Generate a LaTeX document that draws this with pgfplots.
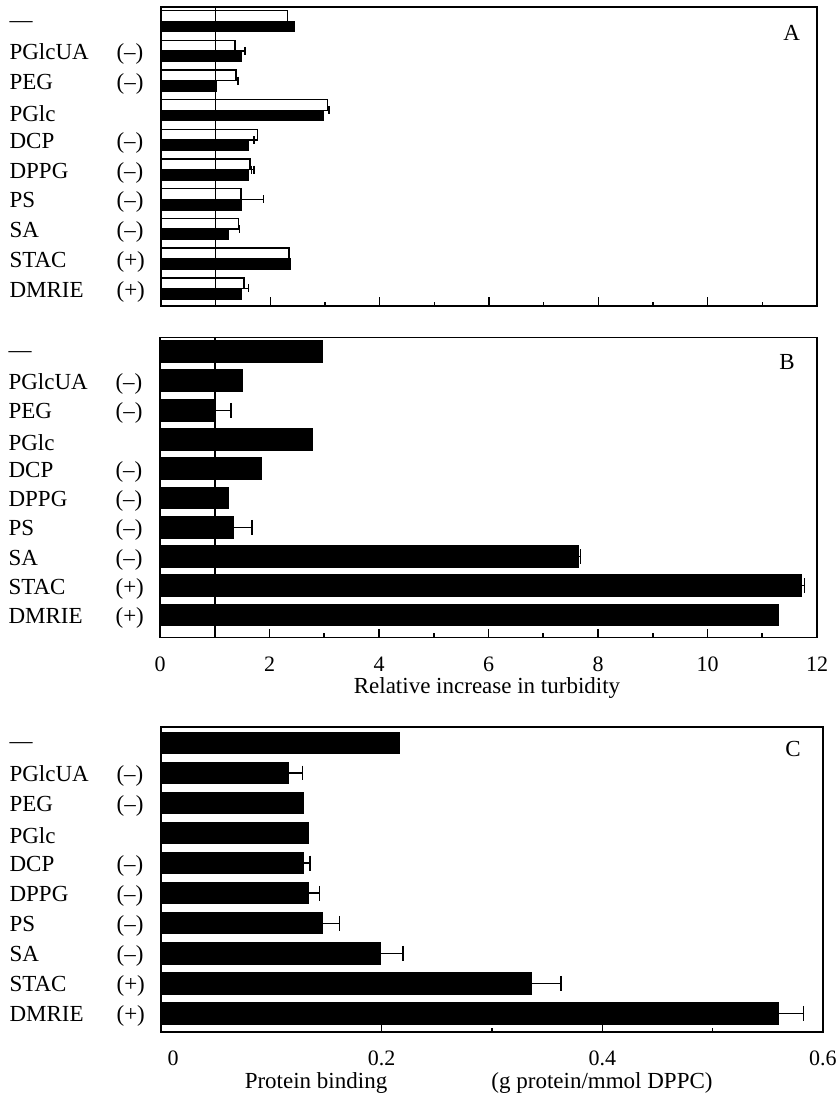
\documentclass[border=0pt]{standalone}
\usepackage{fontspec}
\setmainfont{Liberation Serif}
\usepackage{pgfplots}
\usepackage{pgfplotstable}
\pgfplotsset{compat=1.18}

\pgfplotstableread{
i w we b be
0 2.31 0.00 2.45 0.00
1 1.355 0.01 1.48 0.06
2 1.37 0.04 1.02 0.00
3 3.05 0.02 2.97 0.00
4 1.76 0.00 1.60 0.10
5 1.63 0.07 1.60 0.05
6 1.46 0.41 1.48 0.39
7 1.415 0.02 1.23 0.00
8 2.34 0.01 2.37 0.00
9 1.52 0.00 1.48 0.12
}\dataA

\pgfplotstableread{
i v e
0 2.96 0.00
1 1.51 0.00
2 0.99 0.31
3 2.79 0.00
4 1.85 0.00
5 1.26 0.00
6 1.34 0.34
7 7.64 0.04
8 11.72 0.05
9 11.30 0.00
}\dataB

\pgfplotstableread{
i v e
0 0.216 0.000
1 0.116 0.0125
2 0.129 0.000
3 0.1335 0.000
4 0.129 0.006
5 0.1335 0.010
6 0.146 0.016
7 0.1985 0.021
8 0.336 0.0266
9 0.5597 0.0227
}\dataC

\newcommand{\cat}[2]{\makebox[75.5bp][l]{\makebox[53.5bp][l]{#1}#2}}

\pgfplotsset{
  panel/.style={
    scale only axis, anchor=north west,
    xmin=0, y dir=reverse, ytick={0,...,9},
    yticklabels={\cat{—}{}, \cat{PGlcUA}{(–)}, \cat{PEG}{(–)}, \cat{PGlc}{},
      \cat{DCP}{(–)}, \cat{DPPG}{(–)}, \cat{PS}{(–)}, \cat{SA}{(–)},
      \cat{STAC}{(+)}, \cat{DMRIE}{(+)}},
    yticklabel style={anchor=east, inner sep=0pt, yshift=-1.5bp,
      font=\fontsize{11.5bp}{13bp}\selectfont},
    ytick style={draw=none},
    xtick pos=bottom, tick align=inside,
    major tick length=4.5bp, minor tick length=2.2bp,
    axis line style={line width=0.9bp},
    every tick/.style={black, line width=0.8bp},
    xticklabel style={yshift=-5.5bp, font=\fontsize{11bp}{12bp}\selectfont},
    /pgf/number format/assume math mode=true,
    axis on top,
  },
  turb/.style={
    xmax=12, xtick={0,2,...,12}, minor xtick={1,3,...,11},
    extra x ticks={1}, extra x tick labels={},
    extra x tick style={grid=major, major grid style={black, line width=0.8bp},
      major tick length=0pt},
  },
  ebar/.style={
    draw=none, fill=none, forget plot,
    error bars/.cd, x dir=plus, x explicit, error mark=|,
    error bar style={black, line width=0.7bp},
    error mark options={black, line width=0.7bp, mark size=#1},
  },
}

\begin{document}
\fontsize{11.5bp}{13bp}\selectfont
\begin{tikzpicture}
\useasboundingbox (0,0) rectangle (418bp,-549.5bp);

% Panel A
\begin{axis}[panel, turb, at={(80.5bp,-3.5bp)}, width=328bp, height=149.5bp,
  ymin=-0.48, ymax=9.59, xticklabels={}]
\addplot[xbar, bar width=0.357, bar shift=-0.18, fill=white, draw=black, line width=0.7bp]
  table[x=w, y=i] {\dataA};
\addplot[xbar, bar width=0.357, bar shift=0.18, fill=black, draw=black, line width=0.5bp]
  table[x=b, y=i] {\dataA};
\addplot[xbar, bar width=0.357, bar shift=-0.18,
  restrict expr to domain={\thisrow{we}}{0.001:100}, ebar=2bp] table[x=w, y=i, x error=we] {\dataA};
\addplot[xbar, bar width=0.357, bar shift=0.18,
  restrict expr to domain={\thisrow{be}}{0.001:100}, ebar=2bp] table[x=b, y=i, x error=be] {\dataA};
\end{axis}

% Panel B
\begin{axis}[panel, turb, at={(80bp,-168.75bp)}, width=328.5bp, height=150bp,
  ymin=-0.485, ymax=9.77]
\addplot[xbar, bar width=0.75, bar shift=0, fill=black, draw=black, line width=0.5bp]
  table[x=v, y=i] {\dataB};
\addplot[xbar, bar width=0.75, bar shift=0,
  restrict expr to domain={\thisrow{e}}{0.001:100}, ebar=3.7bp] table[x=v, y=i, x error=e] {\dataB};
\end{axis}

% Panel C
\begin{axis}[panel, at={(80.5bp,-363.5bp)}, width=331bp, height=152.5bp,
  ymin=-0.53, ymax=9.62, xmax=0.6, xtick={0,0.2,0.4,0.6},
  xticklabels={\hspace*{12bp}0, 0.2, 0.4, 0.6}, minor xtick={0.3,0.5}]
\addplot[xbar, bar width=0.715, bar shift=0, fill=black, draw=black, line width=0.5bp]
  table[x=v, y=i] {\dataC};
\addplot[xbar, bar width=0.715, bar shift=0,
  restrict expr to domain={\thisrow{e}}{0.001:100}, ebar=3.7bp] table[x=v, y=i, x error=e] {\dataC};
\end{axis}

\node at (395.8bp,-16.5bp) {A};
\node at (393.5bp,-180.8bp) {B};
\node at (396.5bp,-374.5bp) {C};
\node at (243.5bp,-344bp) {Relative increase in turbidity};
\node at (158bp,-541.5bp) {Protein binding};
\node at (301bp,-541.5bp) {(g protein/mmol DPPC)};
\end{tikzpicture}
\end{document}
